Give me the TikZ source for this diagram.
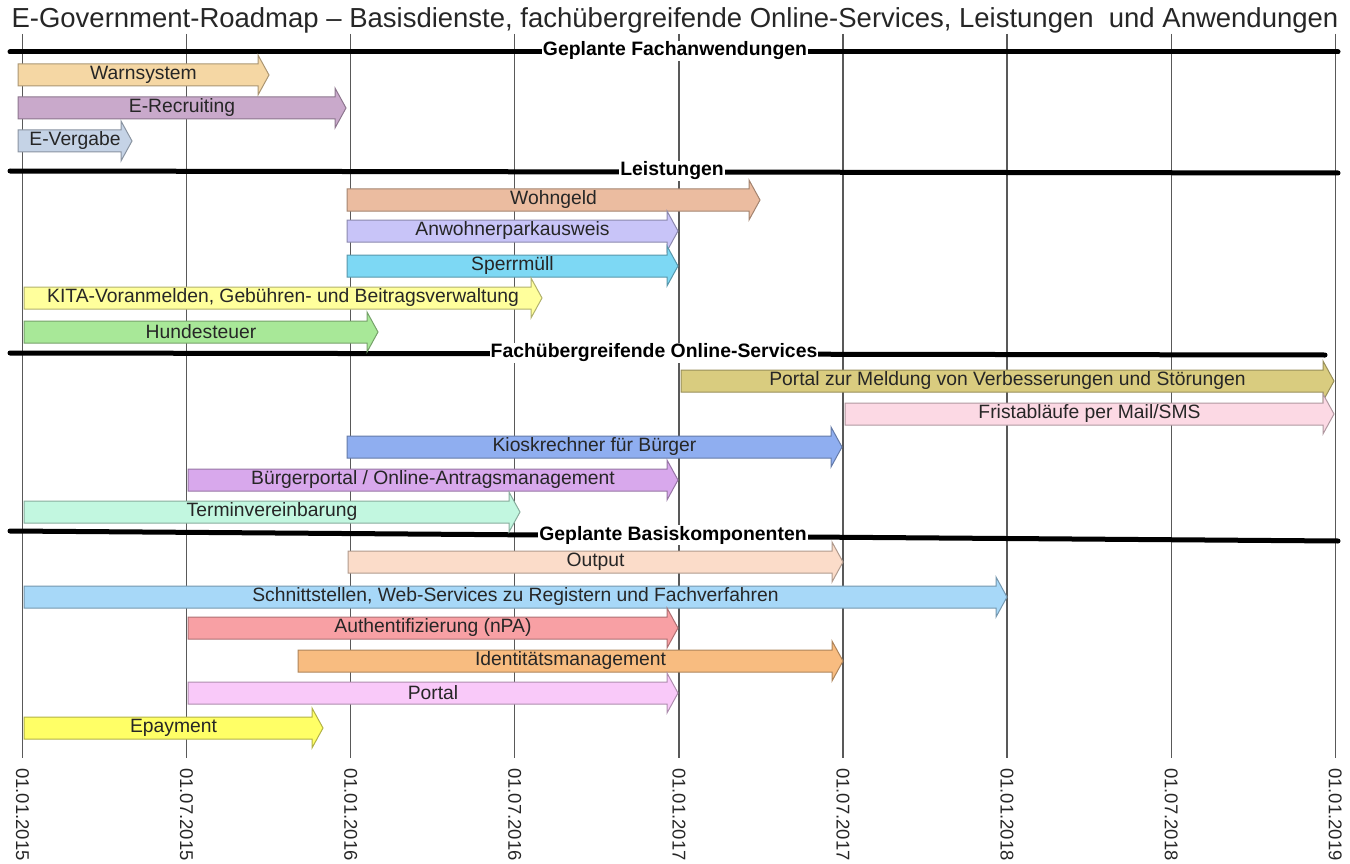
\documentclass[tikz,border=0pt]{standalone}
\usepackage{fontspec}
\setmainfont{Liberation Sans}
\newfontfamily\titlefont{Liberation Sans}

\definecolor{cwarn}{HTML}{F5D7A4}
\definecolor{crecruit}{HTML}{C9A9CB}
\definecolor{cvergabe}{HTML}{C5D3E6}
\definecolor{cwohn}{HTML}{EBBCA0}
\definecolor{canwohn}{HTML}{C8C4F8}
\definecolor{csperr}{HTML}{7DD8F4}
\definecolor{ckita}{HTML}{FFFF9C}
\definecolor{chund}{HTML}{A8E898}
\definecolor{cmeld}{HTML}{D9CC7F}
\definecolor{cfrist}{HTML}{FCD9E4}
\definecolor{ckiosk}{HTML}{8FAEF0}
\definecolor{cbport}{HTML}{D8A8EC}
\definecolor{ctermin}{HTML}{C2F7E0}
\definecolor{coutput}{HTML}{FBDCC9}
\definecolor{cschnitt}{HTML}{A7D8F8}
\definecolor{cauth}{HTML}{F8A0A4}
\definecolor{cident}{HTML}{F8BC80}
\definecolor{cportal}{HTML}{F9C9F9}
\definecolor{cepay}{HTML}{FFFF66}

% name, start, tip, row, colour, text
\newcommand{\roadbar}[6]{%
  \draw[bar, fill=#5, draw=#5!70!black]
    (#2,#4-11) -- (#3-11,#4-11) -- (#3-11,#4-20) -- (#3,#4)
    -- (#3-11,#4+20) -- (#3-11,#4+11) -- (#2,#4+11) -- cycle;
  \node[barlabel] (#1) at ({(#2+#3)/2},#4) {#6};
}

\begin{document}
\begin{tikzpicture}[x=1pt,y=-1pt]
    \tikzset{gridline/.style= {draw=black!65, line width=1.3pt}
    , headline/.style= {line width=5pt, line cap=round}
    , header/.style= {fill=white, inner sep=1pt
      , font=\fontsize{19.4}{21}\selectfont\bfseries}
    , bar/.style= {line width=1pt}
    , barlabel/.style= {text=black!85, inner sep=0pt
      , font=\fontsize{19.3}{21}\selectfont}
    , datelabel/.style= {rotate=-90, anchor=west, inner sep=0pt
      , text=black!85, font=\fontsize{18.5}{20}\selectfont}
    }

\useasboundingbox (0,0) rectangle (1350,864);

\node[font=\titlefont\fontsize{27.5}{30}\selectfont, text=black!85] (title) at (675,20)
  {E-Government-Roadmap – Basisdienste, fachübergreifende Online-Services, Leistungen\ \ und Anwendungen};

% time axis
\foreach \d [count=\i from 0] in {01.01.2015,01.07.2015,01.01.2016,01.07.2016,01.01.2017,01.07.2017,01.01.2018,01.07.2018,01.01.2019}
{
  \coordinate (gtop\i) at (22.5+164.1*\i,34);
  \coordinate (gbot\i) at (22.5+164.1*\i,758);
  \node[datelabel] (date\i) at (22.5+164.1*\i,768) {\d};
  \draw[gridline] (gtop\i) -- (gbot\i);
}

% section rules
\foreach \yl/\yr/\xr/\xc/\t [count=\i] in
  {52/52/1338/675/Geplante Fachanwendungen,
   171/173/1338/672/Leistungen,
   353/355/1325/654/Fachübergreifende Online-Services,
   531/541/1338/673/Geplante Basiskomponenten}
{
  \coordinate (sec\i l) at (10,\yl);
  \coordinate (sec\i r) at (\xr,\yr);
  \draw[headline] (sec\i l) -- (sec\i r);
  \node[header] (sec\i) at (\xc,{(\yl+\yr)/2-1}) {\t};
}

% Geplante Fachanwendungen
\roadbar{warn}{18}{269}{75}{cwarn}{Warnsystem}
\roadbar{recruit}{18}{346}{108}{crecruit}{E-Recruiting}
\roadbar{vergabe}{18}{132}{141}{cvergabe}{E-Vergabe}

% Leistungen
\roadbar{wohn}{347}{760}{200}{cwohn}{Wohngeld}
\roadbar{anwohn}{347}{678}{231}{canwohn}{Anwohnerparkausweis}
\roadbar{sperr}{347}{678}{266}{csperr}{Sperrmüll}
\roadbar{kita}{24}{542}{298}{ckita}{KITA-Voranmelden, Gebühren- und Beitragsverwaltung}
\roadbar{hund}{24}{378}{332}{chund}{Hundesteuer}

% Fachuebergreifende Online-Services
\roadbar{meld}{681}{1334}{381}{cmeld}{Portal zur Meldung von Verbesserungen und Störungen}
\roadbar{frist}{845}{1334}{414}{cfrist}{Fristabläufe per Mail/SMS}
\roadbar{kiosk}{347}{842}{447}{ckiosk}{Kioskrechner für Bürger}
\roadbar{bport}{188}{678}{480}{cbport}{Bürgerportal / Online-Antragsmanagement}
\roadbar{termin}{24}{520}{512}{ctermin}{Terminvereinbarung}

% Geplante Basiskomponenten
\roadbar{output}{348}{843}{562}{coutput}{Output}
\roadbar{schnitt}{24}{1007}{597}{cschnitt}{Schnittstellen, Web-Services zu Registern und Fachverfahren}
\roadbar{auth}{188}{678}{628}{cauth}{Authentifizierung (nPA)}
\roadbar{ident}{298}{843}{661}{cident}{Identitätsmanagement}
\roadbar{portal}{188}{678}{693}{cportal}{Portal}
\roadbar{epay}{24}{323}{728}{cepay}{Epayment}
\end{tikzpicture}
\end{document}
